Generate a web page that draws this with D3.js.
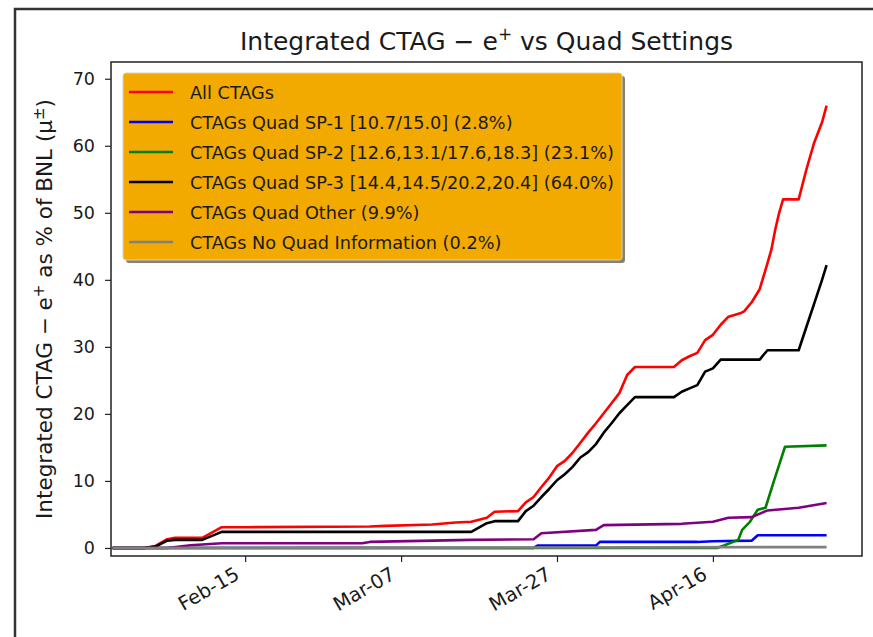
<!DOCTYPE html>
<html>
<head>
<meta charset="utf-8">
<script src="https://cdn.jsdelivr.net/npm/d3@7"></script>
<style>
  body { margin: 0; background: #fff; }
  text { font-family: "DejaVu Sans", sans-serif; fill: #1a1a1a; }
</style>
</head>
<body>
<svg id="chart" width="873" height="637"></svg>
<script>
// tick labels / axis ranges
const xTicks = ['2018-02-15', '2018-03-07', '2018-03-27', '2018-04-16'];
const yTicks = [0, 10, 20, 30, 40, 50, 60, 70];
const xRange = ['2018-01-28T19:00', '2018-05-05T03:00'];
const yRange = [-1.2, 72.5];

// series: [date, integrated %]
const allCtags = [
  ['2018-01-29', 0], ['2018-02-02', 0], ['2018-02-03T12:00', 0.3], ['2018-02-05', 1.3],
  ['2018-02-06', 1.5], ['2018-02-09T12:00', 1.5], ['2018-02-12', 3.1], ['2018-02-15', 3.1],
  ['2018-03-03', 3.2], ['2018-03-05', 3.3], ['2018-03-11', 3.5], ['2018-03-14', 3.8],
  ['2018-03-16', 3.9], ['2018-03-18', 4.5], ['2018-03-19', 5.4], ['2018-03-22', 5.5],
  ['2018-03-23', 6.8], ['2018-03-24', 7.6], ['2018-03-25', 9.1], ['2018-03-26', 10.5],
  ['2018-03-27', 12.2], ['2018-03-28', 13.0], ['2018-03-29', 14.2], ['2018-03-30', 15.7],
  ['2018-03-31', 17.2], ['2018-04-01', 18.6], ['2018-04-02', 20.1], ['2018-04-03', 21.6],
  ['2018-04-04', 23.1], ['2018-04-05', 25.8], ['2018-04-06', 27.0], ['2018-04-11', 27.0],
  ['2018-04-12', 28.0], ['2018-04-13', 28.6], ['2018-04-14', 29.1], ['2018-04-15', 31.0],
  ['2018-04-16', 31.8], ['2018-04-17', 33.3], ['2018-04-18', 34.5], ['2018-04-19T12:00', 35.0],
  ['2018-04-20', 35.3], ['2018-04-21', 36.7], ['2018-04-22', 38.6], ['2018-04-22T18:00', 41.5],
  ['2018-04-23T12:00', 44.5], ['2018-04-24', 47.5], ['2018-04-24T12:00', 50.0], ['2018-04-25', 52.0],
  ['2018-04-27', 52.0], ['2018-04-28', 56.5], ['2018-04-29', 60.5], ['2018-04-30', 63.5],
  ['2018-04-30T14:00', 66.0]
];
const quadSp1 = [
  ['2018-01-29', 0], ['2018-03-24', 0], ['2018-03-24T12:00', 0.35], ['2018-04-01', 0.35],
  ['2018-04-01T12:00', 0.9], ['2018-04-14', 0.9], ['2018-04-16', 1.0], ['2018-04-21', 1.1],
  ['2018-04-21T18:00', 1.9], ['2018-04-30T14:00', 1.9]
];
const quadSp2 = [
  ['2018-01-29', 0], ['2018-04-16T12:00', 0], ['2018-04-17T12:00', 0.4], ['2018-04-19T06:00', 1.2],
  ['2018-04-19T18:00', 2.7], ['2018-04-20T18:00', 3.9], ['2018-04-21T18:00', 5.7], ['2018-04-22T18:00', 6.0],
  ['2018-04-23T18:00', 9.7], ['2018-04-25T06:00', 15.1], ['2018-04-30T14:00', 15.3]
];
const quadSp3 = [
  ['2018-01-29', 0], ['2018-02-02', 0], ['2018-02-03T12:00', 0.2], ['2018-02-05', 1.1],
  ['2018-02-06', 1.2], ['2018-02-09T12:00', 1.2], ['2018-02-12', 2.4], ['2018-03-16', 2.4],
  ['2018-03-18', 3.7], ['2018-03-19', 4.0], ['2018-03-22', 4.0], ['2018-03-23', 5.5],
  ['2018-03-24', 6.3], ['2018-03-25', 7.6], ['2018-03-26', 8.8], ['2018-03-27', 10.1],
  ['2018-03-28', 11.0], ['2018-03-29', 12.1], ['2018-03-30', 13.5], ['2018-03-31', 14.3],
  ['2018-04-01', 15.5], ['2018-04-02', 17.2], ['2018-04-03', 18.6], ['2018-04-04', 20.1],
  ['2018-04-05', 21.3], ['2018-04-06', 22.5], ['2018-04-11', 22.5], ['2018-04-12', 23.3],
  ['2018-04-13', 23.8], ['2018-04-14', 24.3], ['2018-04-15', 26.3], ['2018-04-16', 26.8],
  ['2018-04-17', 28.1], ['2018-04-22', 28.1], ['2018-04-23', 29.5], ['2018-04-27', 29.5],
  ['2018-04-28', 33.0], ['2018-04-29', 36.5], ['2018-04-30', 40.0], ['2018-04-30T14:00', 42.2]
];
const quadOther = [
  ['2018-01-29', 0], ['2018-02-05', 0], ['2018-02-08', 0.4], ['2018-02-12', 0.7],
  ['2018-03-02', 0.7], ['2018-03-03', 0.9], ['2018-03-16', 1.2], ['2018-03-24', 1.3],
  ['2018-03-25', 2.2], ['2018-04-01', 2.7], ['2018-04-02', 3.4], ['2018-04-12', 3.6],
  ['2018-04-16', 3.9], ['2018-04-18', 4.5], ['2018-04-21', 4.6], ['2018-04-23', 5.6],
  ['2018-04-27', 6.0], ['2018-04-30T14:00', 6.7]
];
const noQuad = [
  ['2018-01-29', 0], ['2018-03-01', 0.05], ['2018-04-30T14:00', 0.13]
];

const seriesNames = [
  'All CTAGs',
  'CTAGs Quad SP-1 [10.7/15.0] (2.8%)',
  'CTAGs Quad SP-2 [12.6,13.1/17.6,18.3] (23.1%)',
  'CTAGs Quad SP-3 [14.4,14.5/20.2,20.4] (64.0%)',
  'CTAGs Quad Other (9.9%)',
  'CTAGs No Quad Information (0.2%)'
];
const seriesData = [allCtags, quadSp1, quadSp2, quadSp3, quadOther, noQuad];
const seriesColors = ['#ff0000', '#0000ff', '#008000', '#000000', '#800080', '#808080'];

// ---- layout
const svg = d3.select('#chart');
const M = { left: 111, top: 62, right: 862, bottom: 556 };
const parse = d3.isoParse;

// figure frame (screenshot edge)
svg.append('path')
  .attr('d', 'M15,640 L15,9 L880,9')
  .attr('fill', 'none').attr('stroke', '#333').attr('stroke-width', 2.5);

const x = d3.scaleTime().domain(xRange.map(parse)).range([M.left, M.right]);
const y = d3.scaleLinear().domain(yRange).range([M.bottom, M.top]);

// lines
const line = d3.line()
  .x(d => x(parse(d[0])))
  .y(d => y(d[1]));

const plot = svg.append('g');
seriesData.forEach((s, i) => {
  plot.append('path')
    .datum(s)
    .attr('d', line)
    .attr('fill', 'none')
    .attr('stroke', seriesColors[i])
    .attr('stroke-width', 2.6)
    .attr('stroke-linejoin', 'round');
});

// axes
const xAxis = svg.append('g')
  .attr('transform', `translate(0,${M.bottom})`)
  .call(d3.axisBottom(x).tickValues(xTicks.map(parse)).tickFormat(d3.timeFormat('%b-%d')).tickSizeOuter(0).tickSize(6));
xAxis.selectAll('text')
  .style('font-size', '19.5px')
  .attr('text-anchor', 'end')
  .attr('x', 0).attr('y', 0).attr('dy', 0)
  .attr('transform', 'translate(-5,22) rotate(-30)');

const yAxis = svg.append('g')
  .attr('transform', `translate(${M.left},0)`)
  .call(d3.axisLeft(y).tickValues(yTicks).tickSizeOuter(0).tickSize(6).tickPadding(10));
yAxis.selectAll('text').style('font-size', '17.5px');

svg.selectAll('.domain').remove();
svg.selectAll('.tick line').attr('stroke', '#222').attr('stroke-width', 1.2);

// plot frame
svg.append('rect')
  .attr('x', M.left).attr('y', M.top)
  .attr('width', M.right - M.left).attr('height', M.bottom - M.top)
  .attr('fill', 'none').attr('stroke', '#222').attr('stroke-width', 1.5);

// title
const title = svg.append('text')
  .attr('x', (M.left + M.right) / 2).attr('y', 50)
  .attr('text-anchor', 'middle')
  .style('font-size', '25px');
title.append('tspan').text('Integrated CTAG \u2212 e');
title.append('tspan').attr('dy', -10).style('font-size', '17px').text('+');
title.append('tspan').attr('dy', 10).text(' vs Quad Settings');

// y label
const ylab = svg.append('text')
  .attr('transform', `translate(52,${(M.top + M.bottom) / 2}) rotate(-90)`)
  .attr('text-anchor', 'middle')
  .style('font-size', '21.5px');
ylab.append('tspan').text('Integrated CTAG \u2212 e');
ylab.append('tspan').attr('dy', -8).style('font-size', '15px').text('+');
ylab.append('tspan').attr('dy', 8).text(' as % of BNL (\u03bc');
ylab.append('tspan').attr('dy', -8).style('font-size', '15px').text('\u00b1');
ylab.append('tspan').attr('dy', 8).text(')');

// legend
const L = { x: 123, y: 73, w: 499, h: 187 };
const leg = svg.append('g');
leg.append('rect')
  .attr('x', L.x + 3).attr('y', L.y + 3).attr('width', L.w).attr('height', L.h)
  .attr('rx', 3).attr('fill', '#8a8070');
leg.append('rect')
  .attr('x', L.x).attr('y', L.y).attr('width', L.w).attr('height', L.h)
  .attr('rx', 3).attr('fill', '#f2aa00').attr('stroke', '#d9d0c0').attr('stroke-width', 1);
seriesNames.forEach((name, i) => {
  const cy = L.y + 19 + i * 30;
  leg.append('line')
    .attr('x1', L.x + 6).attr('x2', L.x + 50).attr('y1', cy).attr('y2', cy)
    .attr('stroke', seriesColors[i]).attr('stroke-width', 2.6);
  leg.append('text')
    .attr('x', L.x + 67).attr('y', cy + 6.5)
    .style('font-size', '17.7px')
    .text(name);
});
</script>
</body>
</html>
